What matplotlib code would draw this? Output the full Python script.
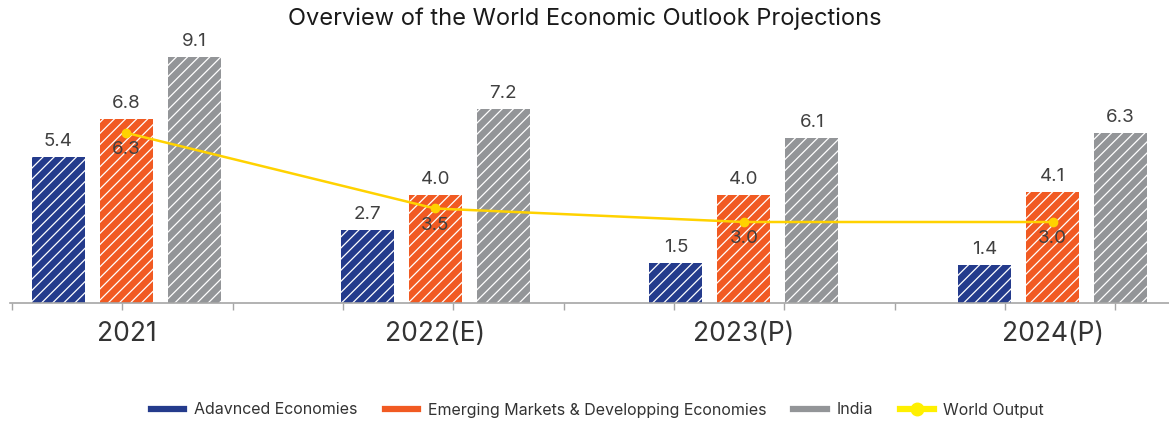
import numpy as np
import matplotlib.pyplot as plt
from matplotlib.lines import Line2D

plt.rcParams['font.family'] = ['Inter', 'DejaVu Sans']
plt.rcParams['hatch.linewidth'] = 0.9

# dados
anos = ['2021', '2022(E)', '2023(P)', '2024(P)']
avancadas = [5.4, 2.7, 1.5, 1.4]
emergentes = [6.8, 4.0, 4.0, 4.1]
india = [9.1, 7.2, 6.1, 6.3]
mundo = [6.3, 3.5, 3.0, 3.0]

cor_azul = '#243B8C'
cor_laranja = '#F15A22'
cor_cinza = '#939598'
cor_amarelo = '#FFD200'
cor_texto = '#404040'

fig = plt.figure(figsize=(11.69, 4.22), dpi=100)
ax = fig.add_axes([10 / 1169, 119 / 422, 1159 / 1169, 263 / 422])

x = np.arange(len(anos))
largura = 0.172
desloc = 0.22

series = [(avancadas, cor_azul, -desloc), (emergentes, cor_laranja, 0), (india, cor_cinza, desloc)]
for valores, cor, d in series:
    barras = ax.bar(x + d, valores, width=largura, color=cor, edgecolor='white',
                    linewidth=0, hatch='///')
    for b, v in zip(barras, valores):
        ax.annotate(f'{v:.1f}', (b.get_x() + b.get_width() / 2, v), xytext=(0, 5),
                    textcoords='offset points', ha='center', va='bottom',
                    fontsize=13.5, color=cor_texto)

# linha da produção mundial
ax.plot(x, mundo, color=cor_amarelo, linewidth=1.8, marker='o', markersize=6, zorder=5)
for xi, v in zip(x, mundo):
    ax.annotate(f'{v:.1f}', (xi, v), xytext=(0, -6), textcoords='offset points',
                ha='center', va='top', fontsize=13.5, color=cor_texto, zorder=6)

ax.set_xlim(-0.377, 3.377)
ax.set_ylim(0, 263 / 27)
ax.set_xticks(x)
ax.set_xticklabels(anos, fontsize=19, color='#333333')
ax.tick_params(axis='x', length=0, pad=13)
ax.set_xticks(np.arange(-0.371, 3.4, 0.3574), minor=True)
ax.tick_params(axis='x', which='minor', length=5, color='#A6A6A6', width=1)
ax.set_yticks([])
for lado in ['top', 'right', 'left']:
    ax.spines[lado].set_visible(False)
ax.spines['bottom'].set_color('#A6A6A6')
ax.spines['bottom'].set_linewidth(1.2)

fig.text(0.5, 1 - 19 / 422, 'Overview of the World Economic Outlook Projections',
         ha='center', va='center', fontsize=17, color='#1A1A1A')

# legenda
handles = [
    Line2D([], [], color=cor_azul, linewidth=4.5),
    Line2D([], [], color=cor_laranja, linewidth=4.5),
    Line2D([], [], color=cor_cinza, linewidth=4.5),
    Line2D([], [], color='#FFF000', linewidth=4.5, marker='o', markersize=9),
]
labels = ['Adavnced Economies', 'Emerging Markets & Developping Economies', 'India', 'World Output']
leg = fig.legend(handles, labels, loc='center', bbox_to_anchor=(0.511, 12 / 422), ncol=4,
                 frameon=False, fontsize=11.5, handlelength=2.1, handletextpad=0.6,
                 columnspacing=1.7)
for t in leg.get_texts():
    t.set_color('#333333')

fig.savefig('out.png', dpi=100)
